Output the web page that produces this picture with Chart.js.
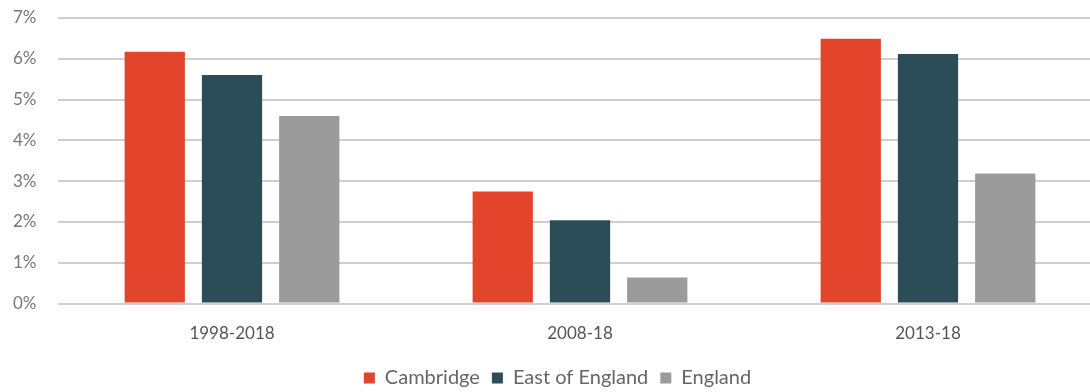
<!DOCTYPE html>
<html>
<head>
<meta charset="utf-8">
<script src="https://cdn.jsdelivr.net/npm/chart.js@4"></script>
<style>
  html, body { margin: 0; padding: 0; background: #fff; overflow: hidden; }
  #wrap { width: 1102px; height: 392px; overflow: hidden; }
</style>
</head>
<body>
<div id="wrap"><canvas id="chart" width="1102" height="398"></canvas></div>
<script>
// periodos y crecimiento anual (%)
const periods = ["1998-2018", "2008-18", "2013-18"];
const cambridge = [6.17, 2.75, 6.49];
const eastOfEngland = [5.6, 2.04, 6.12];
const england = [4.6, 0.64, 3.19];
const yTicks = [0, 1, 2, 3, 4, 5, 6, 7];

const ctx = document.getElementById('chart').getContext('2d');

new Chart(ctx, {
    type: 'bar',
    data: {
        labels: periods,
        datasets: [
            { label: 'Cambridge', data: cambridge, backgroundColor: '#e2452c' },
            { label: 'East of England', data: eastOfEngland, backgroundColor: '#2c4d57' },
            { label: 'England', data: england, backgroundColor: '#9b9b9b' }
        ]
    },
    options: {
        responsive: false,
        animation: false,
        categoryPercentage: 0.666,
        barPercentage: 0.78,
        layout: { padding: { top: 18, left: 13, right: 0, bottom: 0 } },
        plugins: {
            tooltip: { enabled: false },
            legend: {
                position: 'bottom',
                labels: {
                    boxWidth: 11,
                    boxHeight: 11,
                    padding: 12,
                    color: '#666',
                    font: { family: 'Lato', size: 20 }
                }
            }
        },
        scales: {
            x: {
                grid: { display: false },
                border: { display: false },
                ticks: { color: '#555', padding: 12, font: { family: 'Lato', size: 17 } }
            },
            y: {
                min: 0,
                max: 7,
                afterBuildTicks: axis => { axis.ticks = yTicks.map(v => ({ value: v })); },
                afterFit: axis => { axis.width = 45; },
                grid: { color: '#cfcfcf', lineWidth: 2, drawTicks: false },
                border: { display: false },
                ticks: {
                    color: '#777',
                    padding: 0,
                    crossAlign: 'far',
                    font: { family: 'Lato', size: 17 },
                    callback: v => v + '%'
                }
            }
        }
    }
});
</script>
</body>
</html>
